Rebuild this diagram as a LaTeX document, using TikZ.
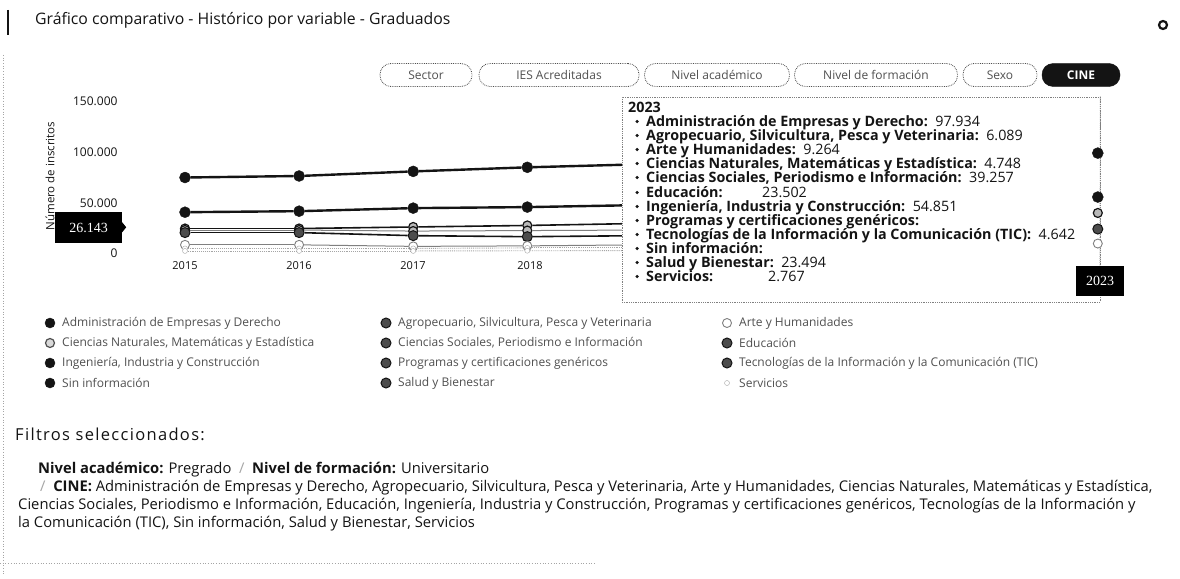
\documentclass[tikz,border=0pt]{standalone}
\usepackage{fontspec}
\setmainfont{Open Sans}
\newfontfamily\numserif{Liberation Serif}
\newfontfamily\widesans[LetterSpace=8]{Open Sans}
\usetikzlibrary{calc}
\definecolor{ink}{RGB}{20,20,20}
\definecolor{soft}{RGB}{80,80,80}
\definecolor{faint}{RGB}{165,165,165}
\newcommand\fs[1]{\fontsize{#1}{#1}\selectfont}
\newcommand\plotseries[4]{%
  \foreach \v [count=\i from 0] in {#4} {%
    \ifnum\i<8
      \node[#2] (#1\i) at ({185+114.1*\i},{253-1.02*\v}) {};
    \else
      \coordinate (#1\i) at ({185+114.1*\i},{253-1.02*\v});
    \fi
  }%
  \foreach \i [evaluate=\i as \j using int(\i+1)] in {0,...,7} {\draw[#3] (#1\i) -- (#1\j);}%
}
\tikzset{
  pill/.style={draw=soft, densely dotted, line width=0.8pt, rounded corners=11pt, minimum height=23pt, inner sep=0pt, font=\fs{12}, text=soft},
  pillon/.style={fill=ink, draw=ink, rounded corners=11pt, minimum height=23pt, inner sep=0pt, font=\bfseries\fs{12}, text=white},
  mkfull/.style={circle, fill=ink, draw=ink, minimum size=11pt, inner sep=0pt},
  mkdark/.style={circle, fill=black!70, draw=ink, line width=1pt, minimum size=10pt, inner sep=0pt},
  mkhalf/.style={circle, fill=gray!55, draw=ink, line width=1.2pt, minimum size=9pt, inner sep=0pt},
  mkhollow/.style={circle, fill=white, draw=gray, line width=0.9pt, minimum size=9pt, inner sep=0pt},
  mksmall/.style={circle, fill=white, draw=faint, minimum size=5pt, inner sep=0pt},
  lnthick/.style={draw=ink, line width=2.4pt},
  lnmid/.style={draw=ink, line width=1.6pt},
  lnlight/.style={draw=gray, line width=1pt},
  lnfaint/.style={draw=faint, line width=0.9pt, densely dotted},
  ylab/.style={anchor=east, font=\fs{12}, text=ink},
  xlab/.style={anchor=center, font=\fs{11}, text=ink},
  ttline/.style={anchor=base west, font=\bfseries\fs{14.3}, text=ink, inner sep=0pt},
  ttval/.style={anchor=base west, font=\fs{14.3}, text=ink, inner sep=0pt},
  bullet/.style={circle, fill=ink, minimum size=3.5pt, inner sep=0pt},
  legtext/.style={anchor=west, font=\fs{12}, text=soft, inner sep=0pt},
  filt/.style={anchor=base west, font=\fs{14.75}, text=ink, inner sep=0pt},
  blacklab/.style={fill=black, text=white, font=\numserif\fs{14}, inner sep=0pt}
}
\begin{document}
\begin{tikzpicture}[x=1pt,y=-1pt]
\useasboundingbox (0,0) rectangle (1180,578);
\fill[white] (0,0) rectangle (1180,578);
% scan artefacts
\draw[faint, dotted, line width=0.7pt] (3,55) -- (3,575);
\draw[faint, dotted, line width=0.7pt] (0,563) -- (595,563);
% title
\draw[ink, line width=2.8pt] (8,10) -- (8,35);
\node[anchor=west, font=\fs{15.8}, text=ink, inner sep=0pt] (title) at (35,20) {Gráfico comparativo - Histórico por variable - Graduados};
\node[circle, draw=ink, line width=2.2pt, minimum size=8pt, inner sep=0pt] (gear) at (1163,25) {};
% buttons
\node[pill, minimum width=92pt] (b1) at (426,75) {Sector};
\node[pill, minimum width=160pt] (b2) at (559,75) {IES Acreditadas};
\node[pill, minimum width=145pt] (b3) at (717,75) {Nivel académico};
\node[pill, minimum width=163pt] (b4) at (876,75) {Nivel de formación};
\node[pill, minimum width=74pt] (b5) at (1000,75) {Sexo};
\node[pillon, minimum width=78pt] (b6) at (1081,75) {CINE};
% axes labels
\node[ylab] (y150) at (121,101) {150.000};
\node[ylab] (y100) at (121,152) {100.000};
\node[ylab] (y50) at (121,203) {50.000};
\node[ylab] (y0) at (121,253) {0};
\node[rotate=90, font=\fs{11.5}, text=ink] (ytitle) at (50,176) {Número de inscritos};
\node[xlab] (x15) at (185,266) {2015};
\node[xlab] (x16) at (299,266) {2016};
\node[xlab] (x17) at (413,266) {2017};
\node[xlab] (x18) at (530,266) {2018};
% series
\plotseries{adm}{mkfull}{lnthick}{74,75.5,80,84,87,90,93,95.5,97.934}
\plotseries{ing}{mkfull}{lnthick}{40,41,44,45,47,49,51,53,54.851}
\plotseries{cso}{mkhalf}{lnmid}{24,24,25.5,27,29,32,35,37,39.257}
\plotseries{edu}{mkhalf}{lnlight}{22.5,22.5,21.5,22,22.5,23,23,23.3,23.502}
\plotseries{sal}{mkdark}{lnmid}{20,20,17,16,17,19,21,22,23.494}
\plotseries{art}{mkhollow}{lnlight}{8,8,6.5,7,8,8,9,9,9.264}
\plotseries{agr}{mksmall}{lnfaint}{4.5,4.5,4.5,5,5,5.5,6,6,6.089}
\plotseries{ser}{mksmall}{lnfaint}{2,2,2,2.2,2.4,2.5,2.6,2.7,2.767}
% crosshair y label
\node[blacklab, minimum width=67pt, minimum height=31pt] (ylabel) at (88.5,227.5) {26.143};
\fill[black] (ylabel.north east) ++(0,10.5) -- ++(4,5) -- ++(-4,5) -- cycle;
% tooltip
\node[draw=gray, densely dotted, fill=white, line width=0.8pt, minimum width=478pt, minimum height=205pt, inner sep=0pt] (tip) at (861,199.5) {};
\node[blacklab, minimum width=48pt, minimum height=30pt] (xlabel) at (1100,281) {2023};
\draw[gray, densely dotted, line width=0.9pt] (tip.north east) -- (xlabel.north);
\node[ttline] (t0) at (628,112) {2023};
\foreach \yy [count=\k] in {126,140,154,168,182,197,211,225,239,253,267,281} {\node[bullet] (bu\k) at (637,{\yy-4.5}) {};}
\node[ttline] (t1) at (646,126) {Administración de Empresas y Derecho:\ \ \mdseries 97.934};
\node[ttline] (t2) at (646,140) {Agropecuario, Silvicultura, Pesca y Veterinaria:\ \ \mdseries 6.089};
\node[ttline] (t3) at (646,154) {Arte y Humanidades:\ \ \mdseries 9.264};
\node[ttline] (t4) at (646,168) {Ciencias Naturales, Matemáticas y Estadística:\ \ \mdseries 4.748};
\node[ttline] (t5) at (646,182) {Ciencias Sociales, Periodismo e Información:\ \ \mdseries 39.257};
\node[ttline] (t6) at (646,197) {Educación:};
\node[ttval] (t6v) at (762,197) {23.502};
\node[ttline] (t7) at (646,211) {Ingeniería, Industria y Construcción:\ \ \mdseries 54.851};
\node[ttline] (t8) at (646,225) {Programas y certificaciones genéricos:};
\node[ttline] (t9) at (646,239) {Tecnologías de la Información y la Comunicación (TIC):\ \ \mdseries 4.642};
\node[ttline] (t10) at (646,253) {Sin información:};
\node[ttline] (t11) at (646,267) {Salud y Bienestar:\ \ \mdseries 23.494};
\node[ttline] (t12) at (646,281) {Servicios:};
\node[ttval] (t12v) at (768,281) {2.767};
% 2023 markers on crosshair
\node[mkfull] (m1) at (adm8) {};
\node[mkfull] (m2) at (ing8) {};
\node[mkhalf] (m3) at (cso8) {};
\node[mkdark] (m4) at (sal8) {};
\node[mkhollow] (m5) at (art8) {};
% legend
\node[mkfull, minimum size=10pt] (l1m) at (50,323) {};
\node[legtext] (l1) at (62,323) {Administración de Empresas y Derecho};
\node[mkdark] (l2m) at (386,323) {};
\node[legtext] (l2) at (398,323) {Agropecuario, Silvicultura, Pesca y Veterinaria};
\node[mkhollow] (l3m) at (727,323) {};
\node[legtext] (l3) at (739,323) {Arte y Humanidades};
\node[mkhalf, draw=soft, fill=gray!30] (l4m) at (50,343) {};
\node[legtext] (l4) at (62,343) {Ciencias Naturales, Matemáticas y Estadística};
\node[mkdark] (l5m) at (386,343) {};
\node[legtext] (l5) at (398,343) {Ciencias Sociales, Periodismo e Información};
\node[mkdark] (l6m) at (727,343) {};
\node[legtext] (l6) at (739,343) {Educación};
\node[mkfull, minimum size=10pt] (l7m) at (50,363) {};
\node[legtext] (l7) at (62,363) {Ingeniería, Industria y Construcción};
\node[mkdark] (l8m) at (386,363) {};
\node[legtext] (l8) at (398,363) {Programas y certificaciones genéricos};
\node[mkdark] (l9m) at (727,363) {};
\node[legtext] (l9) at (739,363) {Tecnologías de la Información y la Comunicación (TIC)};
\node[mkfull, minimum size=10pt] (l10m) at (50,383) {};
\node[legtext] (l10) at (62,383) {Sin información};
\node[mkdark] (l11m) at (386,383) {};
\node[legtext] (l11) at (398,383) {Salud y Bienestar};
\node[mksmall] (l12m) at (727,383) {};
\node[legtext] (l12) at (739,383) {Servicios};
% filters
\node[anchor=base west, font=\widesans\fs{16.5}, text=ink, inner sep=0pt] (fh) at (15,440) {Filtros seleccionados:};
\node[filt] (f1) at (38,473) {\bfseries Nivel académico: \mdseries Pregrado \ \textcolor{faint}{/}\ \ \bfseries Nivel de formación: \mdseries Universitario};
\node[filt] (f2) at (40,491) {\textcolor{faint}{/}\ \ \bfseries CINE: \mdseries Administración de Empresas y Derecho, Agropecuario, Silvicultura, Pesca y Veterinaria, Arte y Humanidades, Ciencias Naturales, Matemáticas y Estadística,};
\node[filt] (f3) at (18,509) {Ciencias Sociales, Periodismo e Información, Educación, Ingeniería, Industria y Construcción, Programas y certificaciones genéricos, Tecnologías de la Información y};
\node[filt] (f4) at (18,527) {la Comunicación (TIC), Sin información, Salud y Bienestar, Servicios};
\end{tikzpicture}
\end{document}
